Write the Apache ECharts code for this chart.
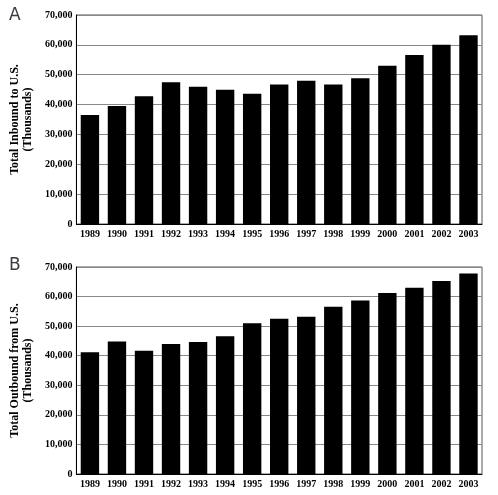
<!DOCTYPE html>
<html><head><meta charset="utf-8">
<script src="https://cdn.jsdelivr.net/npm/echarts@6/dist/echarts.min.js"></script>
<style>body{margin:0;background:#fff}#c{width:498px;height:495px}</style>
</head><body><div id="c"></div>
<script>
const years = ['1989','1990','1991','1992','1993','1994','1995','1996','1997','1998','1999','2000','2001','2002','2003'];
const inbound = [36500,39500,42800,47500,46000,45000,43600,46700,48000,46700,48800,53000,56600,60000,63200];
const outbound = [41200,44800,41700,44000,44600,46600,51000,52500,53200,56600,58700,61200,63000,65300,67800];

const serif = 'Liberation Serif';
const lbl = { fontFamily: serif, fontWeight: 'bold', fontSize: 10, color: '#000' };
const xAx = (i) => ({
  type: 'category', data: years, gridIndex: i,
  axisLine: { lineStyle: { color: '#000' } }, axisTick: { show: false },
  axisLabel: { ...lbl, margin: 5, interval: 0 }
});
const yAx = (i, name) => ({
  type: 'value', gridIndex: i, min: 0, max: 70000, interval: 10000,
  name, nameLocation: 'middle', nameGap: 42,
  nameTextStyle: { fontFamily: serif, fontWeight: 'bold', fontSize: 12, color: '#000', lineHeight: 13 },
  axisLine: { show: true, lineStyle: { color: '#000' } }, axisTick: { show: false },
  axisLabel: { ...lbl, margin: 4 },
  splitLine: { lineStyle: { color: '#888', width: 1 } }
});
const bar = (i, data) => ({
  type: 'bar', xAxisIndex: i, yAxisIndex: i, data, barCategoryGap: '32%',
  itemStyle: { color: '#000' }
});

const chart = echarts.init(document.getElementById('c'));
chart.setOption({
  animation: false,
  title: [
    { text: 'A', left: 4, top: 2, textStyle: { fontFamily: 'DejaVu Sans', fontWeight: 'normal', fontSize: 17 } },
    { text: 'B', left: 4, top: 252, textStyle: { fontFamily: 'DejaVu Sans', fontWeight: 'normal', fontSize: 17 } }
  ],
  grid: [
    { left: 70, right: 16, top: 15, height: 209, show: true, borderColor: '#555', backgroundColor: 'transparent' },
    { left: 75, right: 16, top: 267, height: 207, show: true, borderColor: '#555', backgroundColor: 'transparent' }
  ],
  xAxis: [xAx(0), xAx(1)],
  yAxis: [yAx(0, 'Total Inbound to U.S.\n(Thousands)'), yAx(1, 'Total Outbound from U.S.\n(Thousands)')],
  series: [bar(0, inbound), bar(1, outbound)]
});
</script></body></html>
